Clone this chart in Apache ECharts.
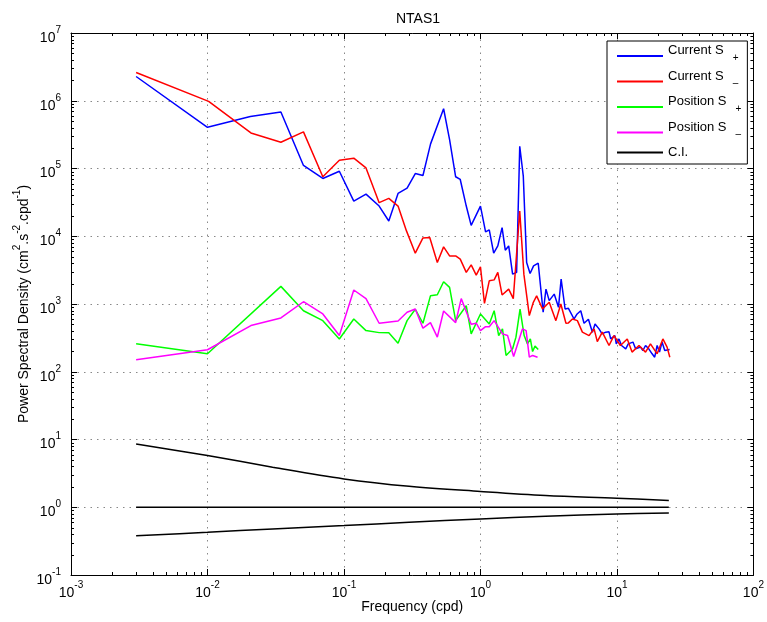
<!DOCTYPE html>
<html><head><meta charset="utf-8">
<script src="https://cdn.jsdelivr.net/npm/echarts@6/dist/echarts.min.js"></script>
<style>html,body{margin:0;padding:0;background:#fff}#c{width:767px;height:622px}</style>
</head><body><div id="c"></div>
<script>
// ---- data (frequency in cpd, PSD in cm^2 s^-2 cpd^-1) ----
const blueF = [0.003, 0.01, 0.0206, 0.0345, 0.0505, 0.070, 0.0925, 0.118, 0.145, 0.181, 0.213, 0.249, 0.29, 0.333, 0.379, 0.431, 0.537, 0.594, 0.658, 0.711, 0.787, 0.855, 1.0, 1.09, 1.16, 1.25, 1.34, 1.44, 1.52, 1.61, 1.72, 1.84, 1.94, 2.06, 2.18, 2.31, 2.45, 2.65, 2.88, 3.02, 3.19, 3.47, 3.73, 3.90, 4.17, 4.41, 4.85, 5.11, 5.43, 5.74, 6.18, 6.61, 6.91, 7.39, 7.78, 8.28, 8.75, 9.0, 9.66, 9.89, 10.35, 10.8, 11.6, 12.1, 13.1, 13.7, 14.9, 15.5, 16.2, 17.1, 18.1, 18.9, 19.7, 20.5, 21.4, 22.4, 24.3];
const blueV = [2.28e6, 4.05e5, 5.87e5, 6.82e5, 1.11e5, 7.13e4, 9.1e4, 3.3e4, 4.19e4, 2.79e4, 1.68e4, 4.29e4, 5.13e4, 8.43e4, 7.89e4, 2.31e5, 7.62e5, 2.67e5, 7.55e4, 6.89e4, 2.79e4, 1.45e4, 2.79e4, 1.16e4, 1.24e4, 5.62e3, 7.2e3, 1.34e4, 6.22e3, 7.2e3, 2.76e3, 2.93e3, 2.13e5, 7.7e4, 4.1e3, 2.82e3, 3.66e3, 4.0e3, 755, 1.66e3, 1.12e3, 1.4e3, 893, 2.33e3, 843, 864, 601, 713, 796, 520, 596, 384, 508, 429, 362, 384, 388, 305, 342, 258, 305, 244, 218, 258, 274, 218, 231, 206, 244, 218, 184, 164, 244, 195, 274, 206, 213];

const redF = [0.003, 0.0102, 0.0208, 0.0345, 0.0505, 0.070, 0.0925, 0.118, 0.145, 0.181, 0.213, 0.249, 0.287, 0.333, 0.379, 0.425, 0.483, 0.537, 0.594, 0.658, 0.711, 0.787, 0.855, 0.931, 1.0, 1.07, 1.16, 1.26, 1.34, 1.44, 1.61, 1.74, 1.94, 2.08, 2.28, 2.44, 2.58, 2.85, 3.19, 3.57, 3.88, 4.23, 4.41, 4.72, 5.13, 5.58, 6.25, 6.80, 7.18, 7.81, 8.75, 9.51, 10.6, 11.9, 12.9, 14.5, 16.2, 17.6, 19.7, 21.7, 23.3, 24.4];
const redV = [2.61e6, 9.8e5, 3.35e5, 2.44e5, 3.47e5, 7.55e4, 1.32e5, 1.42e5, 1.02e5, 3.13e4, 3.62e4, 2.79e4, 1.2e4, 5.62e3, 9.44e3, 9.57e3, 4.1e3, 6.97e3, 5.13e3, 5.13e3, 4.59e3, 2.93e3, 3.78e3, 2.67e3, 3.54e3, 1.02e3, 2.2e3, 2.27e3, 2.93e3, 1.36e3, 1.66e3, 1.2e3, 2.36e4, 2.76e3, 673, 1.06e3, 1.32e3, 843, 1.06e3, 568, 1.0e3, 520, 526, 601, 568, 384, 342, 429, 279, 384, 244, 342, 244, 305, 195, 244, 195, 258, 184, 305, 231, 164];

const greenF = [0.003, 0.01, 0.0345, 0.0505, 0.070, 0.0925, 0.118, 0.145, 0.181, 0.213, 0.249, 0.29, 0.333, 0.379, 0.43, 0.483, 0.537, 0.594, 0.658, 0.787, 0.855, 1.0, 1.16, 1.26, 1.36, 1.45, 1.54, 1.72, 1.82, 1.95, 2.09, 2.21, 2.32, 2.41, 2.51, 2.65];
const greenV = [258, 184, 1.82e3, 796, 568, 305, 601, 405, 378, 375, 264, 568, 836, 520, 1.32e3, 1.37e3, 2.13e3, 1.76e3, 568, 944, 362, 713, 508, 796, 342, 429, 174, 218, 324, 843, 342, 258, 305, 199, 239, 213];

const magF = [0.003, 0.01, 0.0208, 0.0345, 0.0505, 0.070, 0.0925, 0.118, 0.145, 0.181, 0.249, 0.29, 0.333, 0.379, 0.43, 0.483, 0.537, 0.658, 0.723, 0.855, 0.931, 1.0, 1.09, 1.16, 1.26, 1.45, 1.58, 1.75, 2.03, 2.16, 2.28, 2.41, 2.62];
const magV = [150, 211, 480, 622, 1.08e3, 713, 342, 1.61e3, 1.2e3, 520, 562, 755, 843, 440, 531, 324, 788, 531, 1.2e3, 502, 520, 405, 463, 463, 568, 362, 342, 168, 429, 405, 164, 174, 164];

const ciF = [0.003, 0.01, 0.03, 0.1, 0.3, 1, 3, 10, 24];
const ciUpper = [8.6, 5.8, 3.9, 2.62, 2.04, 1.71, 1.49, 1.36, 1.26];
const ciLower = [0.381, 0.427, 0.479, 0.536, 0.6, 0.672, 0.736, 0.797, 0.825];
const ciMidF = [0.003, 24];
const ciMidV = [1, 1];

const seriesNames = ['Current S+', 'Current S-', 'Position S+', 'Position S-', 'C.I.'];
const xExpRange = [-3, 2];
const yExpRange = [-1, 7];

// ---- helpers ----
const FONT = 'Liberation Sans';
const pairs = (f, v) => f.map((x, i) => [x, v[i]]);
const expLabel = v => '{b|10}{sup|' + Math.round(Math.log10(v)) + '}';
const labelRich = {
  b: {fontSize: 14, lineHeight: 16, padding: [6, 0, 0, 0], verticalAlign: 'top', fontFamily: FONT, color: '#000'},
  sup: {fontSize: 10, lineHeight: 12, padding: [0, 0, 0, 0], verticalAlign: 'top', fontFamily: FONT, color: '#000'}
};
const xMinor = [], yMinor = [];
for (let e = xExpRange[0]; e < xExpRange[1]; e++) for (let k = 2; k < 10; k++) xMinor.push(k * Math.pow(10, e));
for (let e = yExpRange[0]; e < yExpRange[1]; e++) for (let k = 2; k < 10; k++) yMinor.push(k * Math.pow(10, e));

const xMin = Math.pow(10, xExpRange[0]), xMax = Math.pow(10, xExpRange[1]);
const yMin = Math.pow(10, yExpRange[0]), yMax = Math.pow(10, yExpRange[1]);

const axisCommon = {
  type: 'log', logBase: 10,
  axisLine: {show: true, onZero: false, lineStyle: {color: '#000', width: 1}},
  axisTick: {show: true, inside: true, length: 6, lineStyle: {color: '#000', width: 1}},
  minorTick: {show: false}
};

function lineSeries(name, f, v, color) {
  return {
    name, type: 'line', data: pairs(f, v), symbol: 'none', showSymbol: false,
    lineStyle: {color, width: 1.5}, itemStyle: {color}, silent: true, z: 3
  };
}
function ciSeries(f, v) {
  return {
    name: 'C.I.', type: 'line', data: pairs(f, v), symbol: 'none', showSymbol: false, smooth: 0.35,
    lineStyle: {color: '#000', width: 1.5}, itemStyle: {color: '#000'}, silent: true, z: 3
  };
}

const chart = echarts.init(document.getElementById('c'), null, {renderer: 'canvas'});
chart.setOption({
  animation: false,
  backgroundColor: '#fff',
  textStyle: {fontFamily: FONT},
  title: {
    text: 'NTAS1', left: 413, top: 7, textAlign: 'center',
    textStyle: {fontFamily: FONT, fontSize: 14, fontWeight: 'normal', color: '#000'}
  },
  grid: {left: 71, right: 11, top: 33, bottom: 47, containLabel: false},
  xAxis: [
    Object.assign({}, axisCommon, {
      position: 'bottom', min: xMin, max: xMax, splitNumber: 5,
      axisLabel: {formatter: expLabel, rich: labelRich, margin: 5, showMinLabel: true, showMaxLabel: true},
      splitLine: {show: true, lineStyle: {type: [1.5, 5], color: '#888', width: 1}},
      name: 'Frequency (cpd)', nameLocation: 'middle', nameGap: 25, nameMoveOverlap: false,
      nameTextStyle: {fontFamily: FONT, fontSize: 14, color: '#000'}
    }),
    Object.assign({}, axisCommon, {
      position: 'top', min: xMin, max: xMax, splitNumber: 5,
      axisLabel: {show: false}, splitLine: {show: false}
    })
  ],
  yAxis: [
    Object.assign({}, axisCommon, {
      position: 'left', min: yMin, max: yMax, splitNumber: 8,
      axisLabel: {formatter: expLabel, rich: labelRich, margin: 10, showMinLabel: true, showMaxLabel: true},
      splitLine: {show: true, lineStyle: {type: [1.5, 5], color: '#888', width: 1}},
      name: '{b|Power Spectral Density (cm}{sup|2}{b|.s}{sup|-2}{b|.cpd}{sup|-1}{b|)}',
      nameLocation: 'middle', nameGap: 44, nameMoveOverlap: false,
      nameTextStyle: {
        fontFamily: FONT, fontSize: 14, color: '#000',
        rich: {
          b: {fontSize: 14, lineHeight: 16, padding: [6, 0, 0, 0], verticalAlign: 'top', fontFamily: FONT, color: '#000'},
          sup: {fontSize: 10, lineHeight: 12, padding: [1, 0, 0, 0], verticalAlign: 'top', fontFamily: FONT, color: '#000'}
        }
      }
    }),
    Object.assign({}, axisCommon, {
      position: 'right', min: yMin, max: yMax, splitNumber: 8,
      axisLabel: {show: false}, splitLine: {show: false}
    })
  ],
  legend: {
    data: seriesNames, orient: 'vertical', left: 607, top: 41,
    backgroundColor: '#fff', borderColor: '#000', borderWidth: 1,
    padding: [3, 6, 5, 9], itemGap: 1.5, itemWidth: 46, itemHeight: 12,
    itemStyle: {opacity: 0},
    selectedMode: false,
    formatter: n => {
      const last = n.slice(-1);
      if (last === '+' || last === '-') return '{b|' + n.slice(0, -1) + '}{sub|' + (last === '+' ? '+' : '\u2013') + '}\n{sp| }';
      return '{c|' + n + '}';
    },
    textStyle: {
      fontFamily: FONT, fontSize: 13, color: '#000',
      rich: {
        b: {fontSize: 13, lineHeight: 12, verticalAlign: 'top', fontFamily: FONT, color: '#000'},
        sub: {fontSize: 10, lineHeight: 10, padding: [9, 0, 5, 9], verticalAlign: 'top', fontFamily: FONT, color: '#000'},
        sp: {fontSize: 6, lineHeight: 12, fontFamily: FONT, color: '#000'},
        c: {fontSize: 13, lineHeight: 22, fontFamily: FONT, color: '#000'}
      }
    }
  },
  series: [
    lineSeries('Current S+', blueF, blueV, '#0000ff'),
    lineSeries('Current S-', redF, redV, '#ff0000'),
    lineSeries('Position S+', greenF, greenV, '#00ff00'),
    lineSeries('Position S-', magF, magV, '#ff00ff'),
    ciSeries(ciF, ciUpper),
    ciSeries(ciMidF, ciMidV),
    ciSeries(ciF, ciLower),
    {
      type: 'custom', name: 'minorTicks', silent: true, z: 5, clip: false,
      data: [[0.01, 1]], encode: {x: 0, y: 1},
      renderItem: function (params, api) {
        if (params.dataIndex !== 0) return;
        const cs = params.coordSys;
        const x0 = cs.x, y0 = cs.y, w = cs.width, h = cs.height, L = 3;
        const ch = [];
        const st = {stroke: '#000', lineWidth: 1};
        xMinor.forEach(v => {
          const px = Math.round(api.coord([v, 1])[0]) + 0.5;
          ch.push({type: 'line', shape: {x1: px, y1: y0 + h, x2: px, y2: y0 + h - L}, style: st});
          ch.push({type: 'line', shape: {x1: px, y1: y0, x2: px, y2: y0 + L}, style: st});
        });
        yMinor.forEach(v => {
          const py = Math.round(api.coord([0.01, v])[1]) + 0.5;
          ch.push({type: 'line', shape: {x1: x0, y1: py, x2: x0 + L, y2: py}, style: st});
          ch.push({type: 'line', shape: {x1: x0 + w, y1: py, x2: x0 + w - L, y2: py}, style: st});
        });
        return {type: 'group', children: ch};
      }
    }
  ]
});
</script>
</body></html>
